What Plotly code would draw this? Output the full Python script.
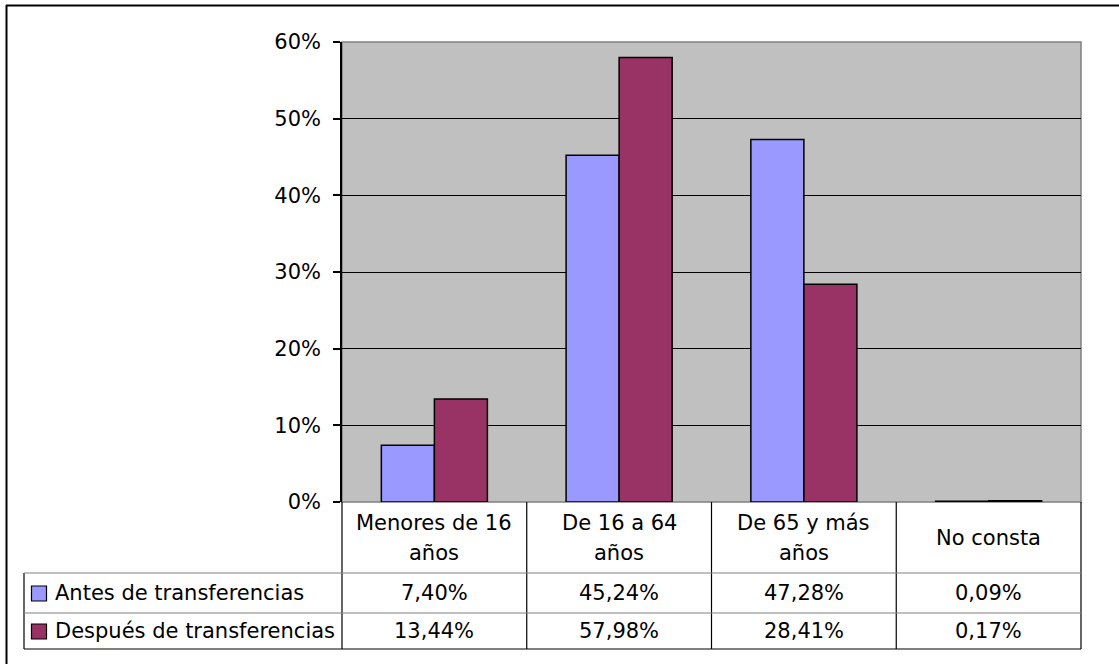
import plotly.graph_objects as go

categories = ["Menores de 16<br>años", "De 16 a 64<br>años", "De 65 y más<br>años", "No consta"]
series_names = ["Antes de transferencias", "Después de transferencias"]
antes = [7.40, 45.24, 47.28, 0.09]
despues = [13.44, 57.98, 28.41, 0.17]
series_values = [antes, despues]
series_colors = ["#9999FF", "#993366"]
y_ticks = [0, 10, 20, 30, 40, 50, 60]
y_tick_labels = ["0%", "10%", "20%", "30%", "40%", "50%", "60%"]

W, H = 1119, 664
PX0, PX1 = 342, 1081   # plot area left/right (pixels)
PY_TOP, PY_BOT = 42, 502  # plot area top/bottom (pixels)
FONT = "DejaVu Sans"
FS = 21
LINE_H = 30


def px(x):
    return (x - PX0) / (PX1 - PX0)


def py(y):
    return (PY_BOT - y) / (PY_BOT - PY_TOP)


fig = go.Figure()
for name, vals, col in zip(series_names, series_values, series_colors):
    fig.add_trace(go.Bar(
        x=categories, y=vals, name=name,
        marker=dict(color=col, line=dict(color="#000000", width=1.5)),
        showlegend=False,
    ))

shapes = []
annotations = []

# plot area border (gray)
shapes.append(dict(type="rect", xref="paper", yref="paper", x0=0, y0=0, x1=1, y1=1,
                   line=dict(color="#808080", width=1.5), layer="below"))

# outer chart border (black)
shapes.append(dict(type="line", xref="paper", yref="paper", x0=px(6), x1=px(W + 5),
                   y0=py(5.5), y1=py(5.5), line=dict(color="#000000", width=2)))
shapes.append(dict(type="line", xref="paper", yref="paper", x0=px(6.5), x1=px(6.5),
                   y0=py(5), y1=py(H + 5), line=dict(color="#000000", width=2)))

# data table geometry
n = len(categories)
col_w = (PX1 - PX0) / n
col_edges = [PX0 + i * col_w for i in range(n + 1)]
TBL_LEFT = 24
ROW_HDR_BOT = 573
ROW1_BOT = 613
ROW2_BOT = 649

for xe in col_edges:
    shapes.append(dict(type="line", xref="paper", yref="paper", x0=px(xe), x1=px(xe),
                       y0=py(PY_BOT), y1=py(ROW2_BOT),
                       line=dict(color="#000000", width=1.2)))
shapes.append(dict(type="line", xref="paper", yref="paper", x0=px(TBL_LEFT), x1=px(TBL_LEFT),
                   y0=py(ROW_HDR_BOT), y1=py(ROW2_BOT), line=dict(color="#000000", width=1.2)))
for yy, colr in [(ROW_HDR_BOT, "#808080"), (ROW1_BOT, "#808080"), (ROW2_BOT, "#000000")]:
    shapes.append(dict(type="line", xref="paper", yref="paper", x0=px(TBL_LEFT), x1=px(PX1),
                       y0=py(yy), y1=py(yy), line=dict(color=colr, width=1.2)))

# header labels (each line placed separately for Excel-like line spacing)
hdr_center = (PY_BOT + ROW_HDR_BOT) / 2
for i, cat in enumerate(categories):
    cx = (col_edges[i] + col_edges[i + 1]) / 2
    lines = cat.split("<br>")
    k = len(lines)
    for j, ln in enumerate(lines):
        yc = hdr_center + (j - (k - 1) / 2) * LINE_H
        annotations.append(dict(xref="paper", yref="paper", x=px(cx), y=py(yc),
                                text=ln, showarrow=False, xanchor="center", yanchor="middle",
                                font=dict(family=FONT, size=FS, color="#000000")))

# rows
row_centers = [(ROW_HDR_BOT + ROW1_BOT) / 2, (ROW1_BOT + ROW2_BOT) / 2]
for r, (name, vals, col) in enumerate(zip(series_names, series_values, series_colors)):
    yc = row_centers[r]
    shapes.append(dict(type="rect", xref="paper", yref="paper",
                       x0=px(31.5), x1=px(46.5), y0=py(yc - 7), y1=py(yc + 8),
                       fillcolor=col, line=dict(color="#000000", width=1.2)))
    annotations.append(dict(xref="paper", yref="paper", x=px(53), y=py(yc),
                            text=name, showarrow=False, xanchor="left", yanchor="middle",
                            font=dict(family=FONT, size=FS, color="#000000")))
    for i, v in enumerate(vals):
        cx = (col_edges[i] + col_edges[i + 1]) / 2
        txt = f"{v:.2f}".replace(".", ",") + "%"
        annotations.append(dict(xref="paper", yref="paper", x=px(cx), y=py(yc),
                                text=txt, showarrow=False, xanchor="center", yanchor="middle",
                                font=dict(family=FONT, size=FS, color="#000000")))

fig.update_layout(
    width=W, height=H,
    margin=dict(l=PX0, r=W - PX1, t=PY_TOP, b=H - PY_BOT, pad=0),
    paper_bgcolor="#FFFFFF",
    plot_bgcolor="#C0C0C0",
    barmode="group",
    bargap=0.426,
    bargroupgap=0,
    separators=", ",
    shapes=shapes,
    annotations=annotations,
    font=dict(family=FONT, size=FS, color="#000000"),
)
fig.update_xaxes(showticklabels=False, showgrid=False, zeroline=False, ticks="",
                 showline=False, fixedrange=True)
fig.update_yaxes(range=[0, 60], tickvals=y_ticks, ticktext=y_tick_labels,
                 showgrid=True, gridcolor="#000000", gridwidth=1, zeroline=False,
                 showline=True, linecolor="#000000", linewidth=1.5,
                 ticks="outside", ticklen=7, tickcolor="#000000", tickwidth=1.5,
                 ticklabelstandoff=8,
                 tickfont=dict(family=FONT, size=FS, color="#000000"))

fig.write_html("out.html", config={"displayModeBar": False},
               post_script="document.body.style.margin='0';document.body.style.overflow='hidden';")
